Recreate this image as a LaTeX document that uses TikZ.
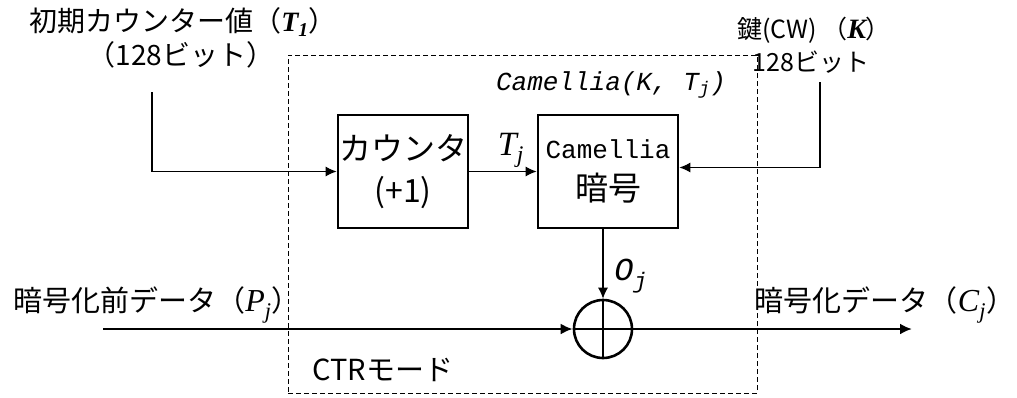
\documentclass[tikz,border=0pt]{standalone}
\usepackage{fontspec}
\setmainfont{Noto Sans CJK JP}
\newfontfamily\monofont{Liberation Mono}
\newfontfamily\serifit{Liberation Serif}[UprightFont=* Italic, BoldFont=* Bold Italic]
\usetikzlibrary{arrows.meta}
\begin{document}
\begin{tikzpicture}[x=1pt,y=-1pt,
  lab/.style={inner sep=0pt, font=\fontsize{29}{32}\selectfont},
  toplab/.style={inner sep=0pt, font=\fontsize{28}{30}\selectfont},
  keylab/.style={inner sep=0pt, font=\fontsize{25}{30}\selectfont},
  blk/.style={draw, line width=2.6pt, minimum width=130pt, minimum height=113pt, inner sep=0pt, align=center},
  thinarrow/.style={line width=1.3pt, -{Latex[length=11pt,width=10pt]}},
  thickarrow/.style={line width=2.6pt, -{Latex[length=12pt,width=11pt]}},
  modebox/.style={draw, line width=1pt, dash pattern=on 5pt off 3pt, inner sep=0pt}
]
\useasboundingbox (0,0) rectangle (1017,397);
\fill[white] (0,0) rectangle (1017,397);

% dashed CTR mode box
\node[modebox, minimum width=469pt, minimum height=338pt] (mode) at (522.5,224) {};

% blocks
\node[blk, font=\fontsize{32}{36}\selectfont] (ctr) at (403,171.5) {カウンタ\\[6pt](+1)};
\node[blk, minimum width=140pt, font=\fontsize{33}{36}\selectfont] (cam) at (608,171.5) {{\monofont\fontsize{26}{30}\selectfont Camellia}\\[6pt]暗号};

% XOR
\node[circle, draw, line width=2.6pt, minimum size=58pt, inner sep=0pt] (xor) at (603,329) {};
\draw[line width=2.6pt] (xor.north) -- (xor.south) (xor.west) -- (xor.east);

% input coordinates
\coordinate (t1in) at (152,92);
\coordinate (kin) at (820,82);
\coordinate (pin) at (103,329);
\coordinate (cout) at (912,329);

% connectors
\draw[thinarrow] (t1in) |- (ctr.west);
\draw[thinarrow] (ctr.east) -- (cam.west);
\draw[thinarrow] (kin) |- ([yshift=4pt]cam.east);
\draw[thinarrow] (cam.south -| xor.north) -- (xor.north);
\draw[thickarrow] (pin) -- (xor.west);
\draw[thickarrow] (xor.east) -- (cout);

% labels
\node[toplab] (t1lab) at (183,22) {初期カウンター値（{\serifit\bfseries T\textsubscript{1}}）};
\node[toplab] (t1bits) at (181,55) {（128ビット）};
\node[keylab] (klab) at (814,30) {鍵(CW) （{\serifit\bfseries\fontsize{28}{30}\selectfont K}）};
\node[keylab] (kbits) at (811,62) {128ビット};
\node[inner sep=0pt, font={\monofont\itshape\fontsize{26}{30}\selectfont}] (camlab) at (611,85) {Camellia(K, T\textsubscript{j})};
\node[inner sep=0pt, font={\serifit\fontsize{34}{36}\selectfont}] (tjlab) at (511,150) {T\textsubscript{j}};
\node[inner sep=0pt, font={\monofont\itshape\fontsize{32}{34}\selectfont}] (ojlab) at (631,276) {O\textsubscript{j}};
\node[lab] (plab) at (157,305) {暗号化前データ（{\serifit\fontsize{32}{32}\selectfont P\textsubscript{j}}）};
\node[lab] (clab) at (885,305) {暗号化データ（{\serifit\fontsize{32}{32}\selectfont C\textsubscript{j}}）};
\node[lab] (modelab) at (383,370) {CTRモード};
\end{tikzpicture}
\end{document}
